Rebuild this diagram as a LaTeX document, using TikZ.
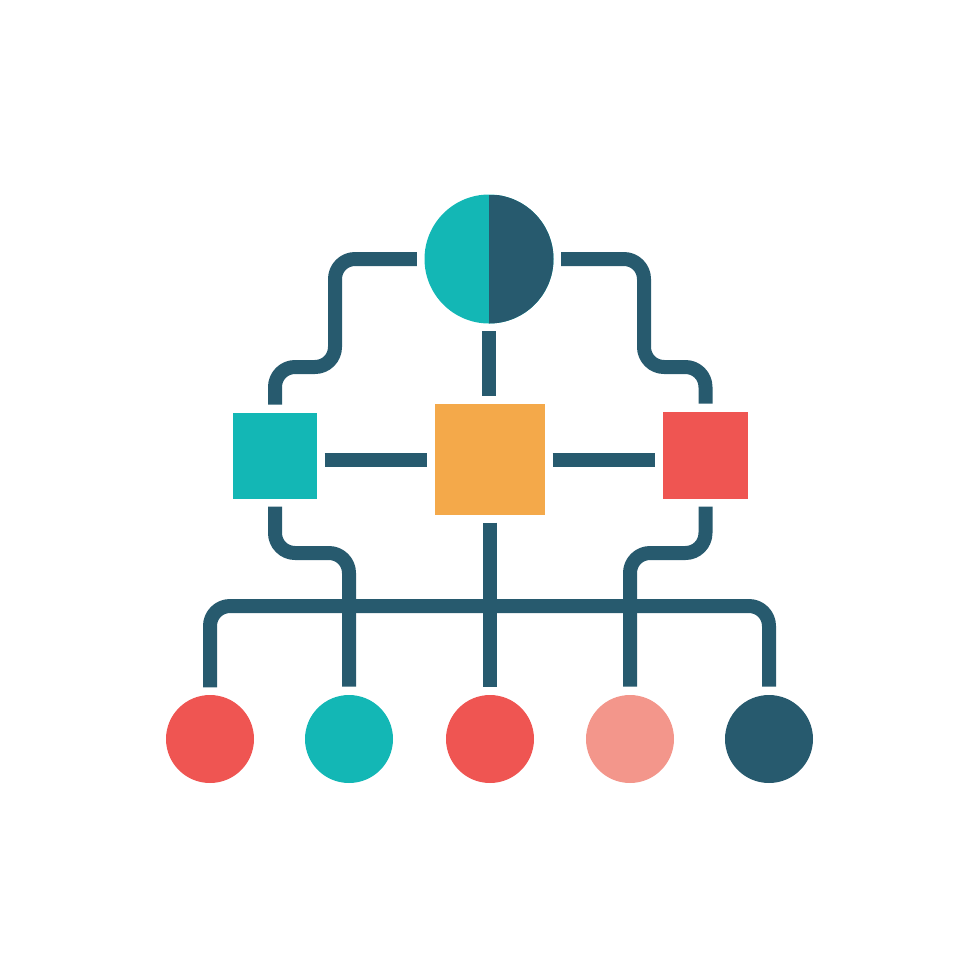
\documentclass[tikz,border=0pt]{standalone}
\usetikzlibrary{calc}
\definecolor{navy}{HTML}{275A6E}
\definecolor{aqua}{HTML}{13B7B5}
\definecolor{amber}{HTML}{F4A94A}
\definecolor{coral}{HTML}{EF5552}
\definecolor{salmon}{HTML}{F3968B}
\begin{document}
\begin{tikzpicture}[x=0.1mm, y=-0.1mm, line join=round,
	wire/.style={draw=navy, line width=1.4mm, rounded corners=2mm, line cap=butt, shorten <=2pt, shorten >=2.2pt},
	dot/.style={circle, inner sep=0pt, minimum size=8.8mm},
	box/.style={rectangle, inner sep=0pt}]
					\useasboundingbox (0,0) rectangle (980,980);
					\node[dot, minimum size=12.9mm, fill=aqua, path picture={\fill[navy] (path picture bounding box.north) rectangle (path picture bounding box.south east);}] (top) at (489,259) {};
					\node[box, fill=aqua, minimum width=8.4mm, minimum height=8.6mm] (sqL) at (275,456) {};
					\node[box, fill=amber, minimum width=11mm, minimum height=11.1mm] (sqC) at (490,459.5) {};
					\node[box, fill=coral, minimum width=8.5mm, minimum height=8.7mm] (sqR) at (705.5,455.5) {};
					\node[dot, fill=coral] (c1) at (210,739) {};
					\node[dot, fill=aqua] (c2) at (349,739) {};
					\node[dot, fill=coral] (c3) at (490,739) {};
					\node[dot, fill=salmon] (c4) at (630,739) {};
					\node[dot, fill=navy] (c5) at (769,739) {};
					\coordinate (bend) at (0,553);
					\coordinate (bus) at (0,606);
					\draw[wire] (top.west) -| (335,367) -| (sqL.north);
					\draw[wire] (top.east) -| (644,367) -| (sqR.north);
					\draw[wire] (top.south) -- (top.south |- sqC.north);
					\draw[wire] (sqL.east |- sqC.west) -- (sqC.west);
					\draw[wire] (sqC.east) -- (sqR.west |- sqC.east);
					\draw[wire] (sqL.south) |- (c2.north |- bend) -- (c2.north);
					\draw[wire] (sqR.south) |- (c4.north |- bend) -- (c4.north);
					\draw[wire] (sqC.south) -- (c3.north);
					\draw[wire] (c1.north) -- (c1.north |- bus) -- (c5.north |- bus) -- (c5.north);
				\end{tikzpicture}
\end{document}
